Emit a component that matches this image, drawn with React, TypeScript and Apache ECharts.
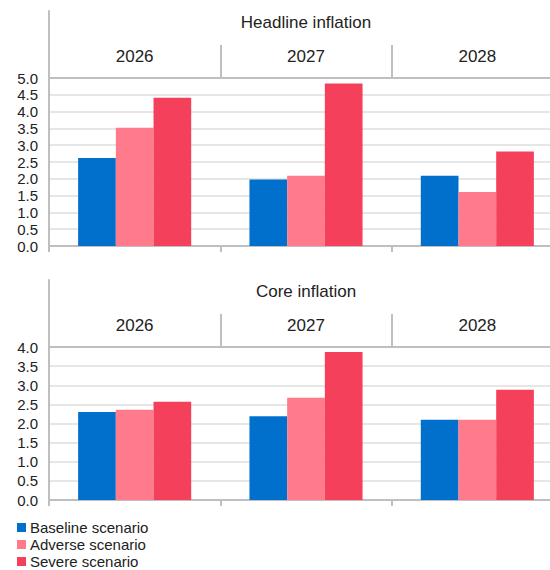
import React, { useEffect, useRef } from "react";
import * as echarts from "echarts";

const categories = ["2026", "2027", "2028"];
const seriesNames = ["Baseline scenario", "Adverse scenario", "Severe scenario"];
const panelTitles = ["Headline inflation", "Core inflation"];

const headlineBaseline = [2.62, 1.98, 2.09];
const headlineAdverse = [3.52, 2.09, 1.61];
const headlineSevere = [4.41, 4.84, 2.81];

const coreBaseline = [2.3, 2.19, 2.1];
const coreAdverse = [2.36, 2.67, 2.1];
const coreSevere = [2.57, 3.87, 2.88];

const yMaxes = [5, 4];
const yInterval = 0.5;

const colors = ["#0070CC", "#FF7B8C", "#F5405C"];
const FONT = 'Arial, "Liberation Sans", sans-serif';
const AXIS_GRAY = "#BFBFBF";
const GRID_GRAY = "#E6E6E6";
const TEXT = "#222222";

export default function App() {
  const ref = useRef<HTMLDivElement>(null);

  useEffect(() => {
    if (!ref.current) return;
    const chart = echarts.init(ref.current, undefined, { renderer: "svg" });

    const L = 49;
    const W = 514;
    const panels = [
      { headerTop: 11, plotTop: 78, plotH: 168, titleY: 22 },
      { headerTop: 280, plotTop: 347, plotH: 153, titleY: 291 },
    ];
    const data = [
      [headlineBaseline, headlineAdverse, headlineSevere],
      [coreBaseline, coreAdverse, coreSevere],
    ];

    const grid: any[] = [];
    const xAxis: any[] = [];
    const yAxis: any[] = [];
    const series: any[] = [];
    const graphic: any[] = [];

    panels.forEach((p, i) => {
      const hIdx = i * 2;
      const pIdx = i * 2 + 1;
      grid.push({ left: L, width: W, top: p.headerTop, height: p.plotTop - p.headerTop, outerBoundsMode: "none", containLabel: false });
      grid.push({ left: L, width: W, top: p.plotTop, height: p.plotH, outerBoundsMode: "none", containLabel: false });

      xAxis.push({
        type: "category",
        gridIndex: hIdx,
        data: categories,
        boundaryGap: true,
        position: "bottom",
        axisLine: { show: true, lineStyle: { color: AXIS_GRAY, width: 2 } },
        axisTick: { show: true, inside: true, length: 33, interval: 0, lineStyle: { color: AXIS_GRAY, width: 2 } },
        axisLabel: { show: true, inside: true, margin: 13, fontSize: 17, color: TEXT, fontFamily: FONT },
        splitLine: { show: false },
      });
      yAxis.push({
        type: "value",
        gridIndex: hIdx,
        min: 0,
        max: 1,
        axisLine: { show: true, lineStyle: { color: AXIS_GRAY, width: 2 } },
        axisTick: { show: false },
        axisLabel: { show: false },
        splitLine: { show: false },
      });

      xAxis.push({
        type: "category",
        gridIndex: pIdx,
        data: categories,
        boundaryGap: true,
        axisLine: { show: true, lineStyle: { color: AXIS_GRAY, width: 2 } },
        axisTick: { show: true, length: 6, interval: 0, lineStyle: { color: AXIS_GRAY, width: 2 } },
        axisLabel: { show: false },
        splitLine: { show: false },
      });
      yAxis.push({
        type: "value",
        gridIndex: pIdx,
        min: 0,
        max: yMaxes[i],
        interval: yInterval,
        axisLine: { show: true, lineStyle: { color: AXIS_GRAY, width: 2 } },
        axisTick: { show: false },
        axisLabel: {
          show: true,
          margin: 11,
          fontSize: 15,
          color: TEXT,
          fontFamily: FONT,
          formatter: (v: number) => v.toFixed(1),
        },
        splitLine: { show: true, lineStyle: { color: GRID_GRAY, width: 2 } },
      });

      data[i].forEach((vals, s) => {
        series.push({
          type: "bar",
          name: seriesNames[s],
          xAxisIndex: pIdx,
          yAxisIndex: pIdx,
          data: vals,
          barWidth: "22%",
          barGap: "0%",
          itemStyle: { color: colors[s] },
        });
      });

      graphic.push({
        type: "text",
        x: 306,
        y: p.titleY,
        style: {
          text: panelTitles[i],
          textAlign: "center",
          textVerticalAlign: "middle",
          fontSize: 17,
          fontFamily: FONT,
          fill: TEXT,
        },
      });
    });

    chart.setOption({
      animation: false,
      backgroundColor: "#ffffff",
      grid,
      xAxis,
      yAxis,
      series,
      graphic,
      legend: {
        data: seriesNames,
        orient: "vertical",
        left: 17,
        top: 520,
        height: 80,
        padding: 0,
        itemWidth: 9,
        itemHeight: 9,
        itemGap: 2,
        icon: "rect",
        textStyle: { fontSize: 15, lineHeight: 15, color: TEXT, fontFamily: FONT, padding: [0, 0, 0, -1] },
      },
    });

    return () => chart.dispose();
  }, []);

  return (
    <div
      ref={ref}
      style={{ position: "fixed", left: 0, top: 0, width: 550, height: 570 }}
    />
  );
}
